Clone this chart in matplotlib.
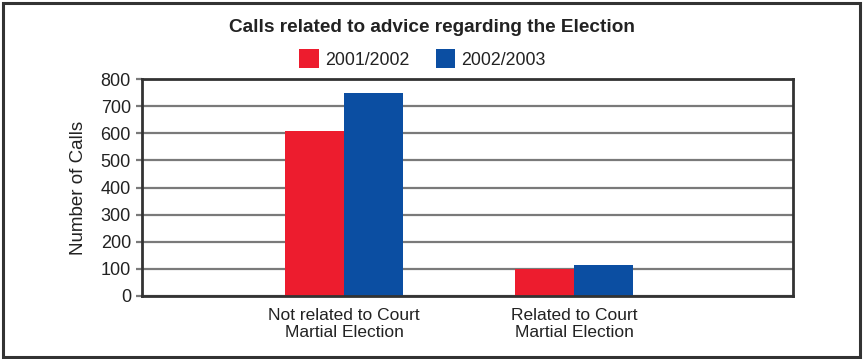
import matplotlib
matplotlib.use("Agg")
import matplotlib.pyplot as plt
from matplotlib.patches import Rectangle
import numpy as np

plt.rcParams["font.family"] = ["Liberation Sans", "DejaVu Sans"]

categories = ["Not related to Court\nMartial Election", "Related to Court\nMartial Election"]
series_names = ["2001/2002", "2002/2003"]
calls_2001 = [610, 100]
calls_2002 = [750, 115]
yticks = [0, 100, 200, 300, 400, 500, 600, 700, 800]

red = "#ED1C2E"
blue = "#0B4EA2"
dark = "#333333"
txt = "#222222"

fig = plt.figure(figsize=(8.63, 3.59), dpi=100)
ax = fig.add_axes([142 / 863, 1 - 296 / 359, (793 - 142) / 863, (296 - 79) / 359])

x = np.arange(len(categories))
w = 0.256
b1 = ax.bar(x - w / 2, calls_2001, w, color=red, zorder=3, label=series_names[0])
b2 = ax.bar(x + w / 2, calls_2002, w, color=blue, zorder=3, label=series_names[1])

ax.set_xlim(-0.878, 1.952)
ax.set_ylim(0, 800)
ax.set_yticks(yticks)
ax.set_xticks(x)
ax.set_xticklabels(categories, fontsize=12.5, color=txt, linespacing=1.15)
ax.tick_params(axis="y", length=4, width=1.6, color="#7a7a7a", labelsize=13, labelcolor=txt, pad=4)
ax.tick_params(axis="x", length=0, pad=9)
ax.grid(axis="y", color="#7a7a7a", linewidth=1.6, zorder=0)
for s in ax.spines.values():
    s.set_color(dark)
    s.set_linewidth(2.0)
    s.set_zorder(4)
ax.set_ylabel("Number of Calls", fontsize=13.5, color=txt, labelpad=10)

fig.text(0.5, 1 - 28 / 359, "Calls related to advice regarding the Election",
         ha="center", va="center", fontsize=13.7, fontweight="bold", color=txt)

leg = fig.legend(handles=[b1, b2], loc="center", bbox_to_anchor=(422.5 / 863, 1 - 59 / 359),
                 ncol=2, frameon=False, fontsize=12.8, handlelength=1.1, handleheight=1.25,
                 handletextpad=0.35, columnspacing=1.5)
for t in leg.get_texts():
    t.set_color(txt)

fig.patches.append(Rectangle((3 / 863, 2 / 359), 857 / 863, 354 / 359, transform=fig.transFigure,
                             fill=False, edgecolor=dark, linewidth=2.2, figure=fig))

fig.savefig("out.png", dpi=100)
